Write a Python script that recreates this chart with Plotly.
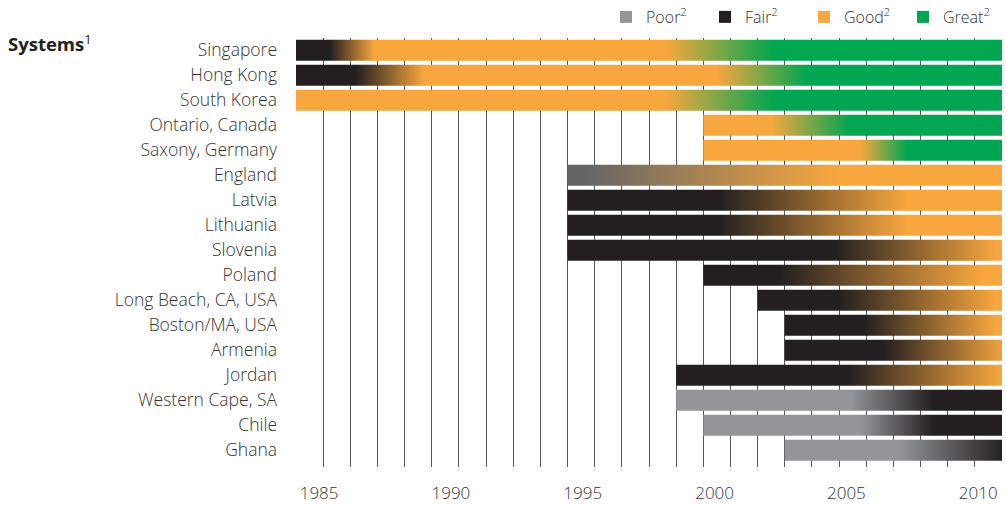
import plotly.graph_objects as go

# Systems, top to bottom
systems = [
    "Singapore", "Hong Kong", "South Korea", "Ontario, Canada", "Saxony, Germany",
    "England", "Latvia", "Lithuania", "Slovenia", "Poland", "Long Beach, CA, USA",
    "Boston/MA, USA", "Armenia", "Jordan", "Western Cape, SA", "Chile", "Ghana",
]

# year each bar starts (bars run to the end of the period)
bar_start = [1984.5, 1984.5, 1984.5, 1999.5, 1999.5, 1994.5, 1994.5, 1994.5,
             1994.5, 1999.5, 2001.5, 2002.5, 2002.5, 1998.5, 1998.5, 1999.5, 2002.5]
bar_end = 2010.5

# performance keyframes per system: (year, rating); colours blend between them
keyframes = [
    [(1985.75, "Fair"), (1987.4, "Good"), (1998.1, "Good"), (2002.1, "Great")],
    [(1986.7, "Fair"), (1989.25, "Good"), (2000.0, "Good"), (2003.3, "Great")],
    [(1998.1, "Good"), (2002.1, "Great")],
    [(2002.0, "Good"), (2004.9, "Great")],
    [(2005.3, "Good"), (2007.0, "Great")],
    [(1995.0, "Poor/Fair"), (2004.5, "Good")],
    [(2000.1, "Fair"), (2007.0, "Good")],
    [(2000.05, "Fair"), (2007.0, "Good")],
    [(2004.35, "Fair"), (2010.3, "Good")],
    [(2002.3, "Fair"), (2009.8, "Good")],
    [(2004.5, "Fair"), (2010.3, "Good")],
    [(2005.4, "Fair"), (2010.3, "Good")],
    [(2006.1, "Fair"), (2010.7, "Good")],
    [(2004.8, "Fair"), (2010.5, "Good")],
    [(2004.9, "Poor"), (2008.0, "Fair")],
    [(2005.3, "Poor"), (2008.0, "Fair")],
    [(2006.7, "Poor"), (2010.6, "Fair")],
]

year_ticks = [1985, 1990, 1995, 2000, 2005, 2010]
legend_items = ["Poor", "Fair", "Good", "Great"]

colors = {
    "Poor": "#939598",
    "Poor/Fair": "#636466",
    "Fair": "#231f20",
    "Good": "#f8a73e",
    "Great": "#00a651",
}

TEXT = "#333333"
FONT = "Open Sans"
HALF = 0.42  # half bar thickness in row units

fig = go.Figure()

for i, name in enumerate(systems):
    s = bar_start[i]
    frames = keyframes[i]
    stop = max(bar_end, frames[-1][0])
    span = stop - s
    scale = [[0.0, colors[frames[0][1]]]]
    for yr, rating in frames:
        scale.append([min(max((yr - s) / span, 0.0), 1.0), colors[rating]])
    scale.append([1.0, colors[frames[-1][1]]])

    fig.add_trace(go.Scatter(
        x=[s, bar_end, bar_end, s, s],
        y=[i - HALF, i - HALF, i + HALF, i + HALF, i - HALF],
        fill="toself",
        mode="none",
        fillgradient=dict(type="horizontal", start=s, stop=stop, colorscale=scale),
        showlegend=False,
        hoverinfo="skip",
        name=name,
    ))

# legend entries
for item in legend_items:
    fig.add_trace(go.Scatter(
        x=[None], y=[None], mode="markers",
        marker=dict(symbol="square", size=15, color=colors[item]),
        name=f"{item}<sup>2</sup>",
    ))

# the year labels in the original sit slightly tighter than the year grid
tick_pos = [1985.35 + (y - 1985) * 0.971 for y in year_ticks]

fig.update_layout(
    width=1006,
    height=505,
    autosize=False,
    margin=dict(l=296, r=4, t=38, b=38, autoexpand=False),
    plot_bgcolor="white",
    paper_bgcolor="white",
    font=dict(family=FONT, size=17, color=TEXT),
    title=dict(
        text="<b>Systems</b><sup>1</sup>",
        font=dict(family=FONT, size=18.5, color="#222222"),
        x=0.0, xanchor="left", xref="container",
        y=1 - 45 / 505, yanchor="middle", yref="container",
        pad=dict(l=8, r=0, t=0, b=0),
    ),
    legend=dict(
        orientation="h",
        x=1.0, xanchor="right",
        y=1.049, yanchor="middle",
        font=dict(family=FONT, size=16, color=TEXT, weight=300),
        itemsizing="constant",
        entrywidth=54,
        bgcolor="rgba(0,0,0,0)",
    ),
    xaxis=dict(
        range=[1984.5, bar_end],
        tickvals=tick_pos,
        ticktext=[str(y) for y in year_ticks],
        tickfont=dict(weight=300),
        ticklabeloverflow="allow",
        showgrid=False,
        zeroline=False,
        showline=False,
        ticks="",
        ticklabelstandoff=14,
        minor=dict(tick0=1984.5, dtick=1, showgrid=True,
                   gridcolor="#555555", gridwidth=1),
        fixedrange=True,
    ),
    yaxis=dict(
        range=[16.67, -0.49],
        tickvals=list(range(len(systems))),
        ticktext=systems,
        tickfont=dict(size=17.5, weight=300),
        showgrid=False,
        zeroline=False,
        showline=False,
        ticks="",
        ticklabelstandoff=18,
        fixedrange=True,
    ),
    hovermode=False,
)

# the page body has a default 8px margin; drop it so the figure sits at the corner
fig.write_html("out.html", config={"displayModeBar": False},
               post_script="document.body.style.margin='0px';")
